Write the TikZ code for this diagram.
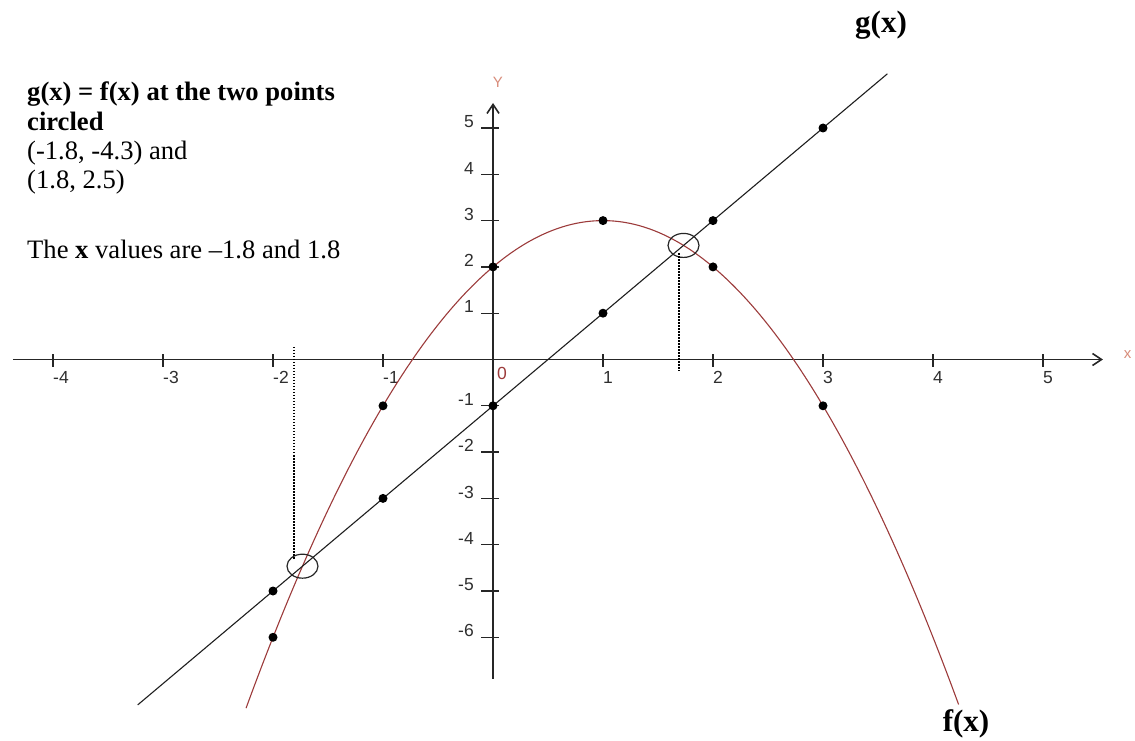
\documentclass[tikz,border=0pt]{standalone}
\usepackage{fontspec}
\setmainfont{Liberation Serif}
\newfontfamily\axisfont{Liberation Sans}
\usepackage{tikz}
\usetikzlibrary{
  arrows.meta,
  shapes.geometric,
  positioning,
  calc
}
\definecolor{grAxis}{HTML}{262626}
\definecolor{grLine}{HTML}{1E1E1E}
\definecolor{grCurve}{HTML}{9C3B3B}
\definecolor{grLabel}{HTML}{D88C7A}
\definecolor{grTick}{HTML}{2E2E2E}
\tikzset{
  axisline/.style={-{Straight Barb[length=9pt,width=12pt]}, line width=1.6pt, grAxis},
  tickmark/.style={line width=1.3pt, grAxis},
  xticklabel/.style={font=\axisfont\fontsize{17.5}{19}\selectfont, text=grTick, inner sep=0pt, anchor=north west},
  yticklabel/.style={font=\axisfont\fontsize{17.5}{19}\selectfont, text=grTick, inner sep=0pt, anchor=south east},
  axislabel/.style={font=\axisfont\fontsize{15}{17}\selectfont, text=grLabel, inner sep=0pt},
  fcurve/.style={line width=1.1pt, grCurve},
  gline/.style={line width=1.1pt, grLine},
  dotpt/.style={circle, fill=black, inner sep=0pt, minimum size=9pt},
  isect/.style={ellipse, draw=grAxis, line width=1.2pt, minimum width=31pt, minimum height=24pt, inner sep=0pt},
  guide/.style={line width=1.5pt, black, dash pattern=on 1.5pt off 1.5pt},
  note/.style={font=\fontsize{26.6}{29.3}\selectfont, align=left, inner sep=0pt, anchor=north west},
  fnlabel/.style={font=\bfseries\fontsize{31}{35}\selectfont, inner sep=0pt, anchor=base}
}

\begin{document}
\begin{tikzpicture}[x=1pt, y=1pt]
  \useasboundingbox (0,0) rectangle (1135,740);
  \node[note] (note) at (27,658) {\textbf{g(x) = f(x) at the two points}\\ \textbf{circled}\\ (-1.8, -4.3) and\\ (1.8, 2.5)\\[40pt] The \textbf{x} values are --1.8 and 1.8};
  \node[fnlabel] (glab) at (881,707) {g(x)};
  \node[fnlabel] (flab) at (966,9) {f(x)};

  \begin{scope}[shift={(493pt,380.5pt)}, x=110pt, y=46.3pt]
    \coordinate (xstart) at (-4.364,0);
    \coordinate (xend) at (5.545,0);
    \coordinate (ystart) at (0,-6.9);
    \coordinate (yend) at (0,5.54);
    \draw[axisline] (xstart) -- (xend);
    \draw[axisline] (ystart) -- (yend);
    \foreach \i in {-4,-3,-2,-1,1,2,3,4,5}{
      \draw[tickmark] ([yshift=5pt]\i,0) -- ([yshift=-8pt]\i,0);
      \node[xticklabel] (xl\i) at ([yshift=-11.5pt]\i,0) {\i};
    }
    \foreach \j in {-6,-5,-4,-3,-2,-1,1,2,3,4,5}{
      \draw[tickmark] ([xshift=-12pt]0,\j) -- ([xshift=6pt]0,\j);
      \node[yticklabel] (yl\j) at ([xshift=-19pt]0,\j) {\j};
    }
    \node[xticklabel, text=grCurve] (xl0) at ([xshift=4pt, yshift=-8pt]0,0) {0};
    \node[axislabel] (ylab) at (0.045,5.99) {Y};
    \node[axislabel] (xlab) at (5.77,0.1) {x};

    \draw[fcurve] plot[domain=-2.245:4.234, samples=90, smooth] (\x, {-(\x)^2+2*\x+2});
    \coordinate (gstart) at (-3.23,-7.46);
    \coordinate (gend) at (3.585,6.17);
    \draw[gline] (gstart) -- (gend);

    \foreach \px/\py [count=\k] in {0/2,1/3,2/2,3/-1,-1/-1,-2/-6}
      \node[dotpt] (fpt\k) at (\px,\py) {};
    \foreach \px/\py [count=\k] in {0/-1,1/1,2/3,3/5,-1/-3,-2/-5}
      \node[dotpt] (gpt\k) at (\px,\py) {};

    \node[isect] (isectR) at (1.732,2.464) {};
    \node[isect] (isectL) at (-1.732,-4.464) {};
    \coordinate (guideRtop) at (1.69,2.30);
    \coordinate (guideRbot) at (1.69,-0.23);
    \coordinate (guideLtop) at (-1.81,0.27);
    \coordinate (guideLbot) at (-1.81,-4.33);
    \draw[guide] (guideRtop) -- (guideRbot);
    \draw[guide] (guideLtop) -- (guideLbot);
  \end{scope}
\end{tikzpicture}
\end{document}
